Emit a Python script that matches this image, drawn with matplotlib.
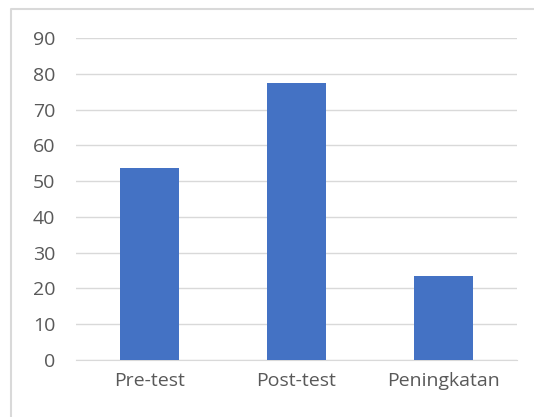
import matplotlib
matplotlib.use('Agg')
from matplotlib import pyplot as plt
from matplotlib.lines import Line2D

categories = ['Pre-test', 'Post-test', 'Peningkatan']
values = [53.7, 77.4, 23.5]
yticks = [0, 10, 20, 30, 40, 50, 60, 70, 80, 90]

plt.rcParams['font.family'] = ['Open Sans', 'DejaVu Sans']

W, H = 534, 417
fig = plt.figure(figsize=(W / 100, H / 100), dpi=100)

# light frame of the chart area (only top and left edges fall inside the picture)
fig.lines.append(Line2D([11 / W, 11 / W, 1.0], [0, 1 - 9 / H, 1 - 9 / H], transform=fig.transFigure,
                        color='#d9d9d9', linewidth=1.5))

ax = fig.add_axes([76 / W, 1 - 360 / H, (517 - 76) / W, (360 - 38) / H])
ax.bar(range(len(categories)), values, width=0.4, color='#4472c4', zorder=3)

ax.set_xlim(-0.5, len(categories) - 0.5)
ax.set_ylim(0, 90)
ax.set_yticks(yticks)
ax.set_xticks(range(len(categories)))
ax.set_xticklabels(categories)
ax.yaxis.grid(True, color='#d9d9d9', linewidth=1)
ax.set_axisbelow(True)
for s in ['top', 'right', 'left']:
    ax.spines[s].set_visible(False)
ax.spines['bottom'].set_color('#d9d9d9')
ax.tick_params(axis='both', length=0, labelsize=14, colors='#595959')
ax.tick_params(axis='y', pad=15)
ax.tick_params(axis='x', pad=9)

plt.savefig('out.png', dpi=100)
